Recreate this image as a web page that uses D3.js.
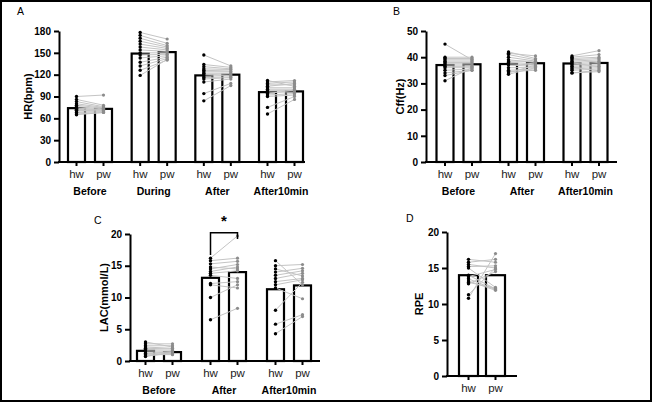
<!DOCTYPE html>
<html>
<head>
<meta charset="utf-8">
<script src="https://cdn.jsdelivr.net/npm/d3@7.9.0/dist/d3.min.js"></script>
<style>
  body { margin: 0; background: #fff; }
  svg { display: block; font-family: "Liberation Sans", Arial, sans-serif; }
  .tick text { font-size: 10px; font-weight: bold; fill: #000; }
</style>
</head>
<body>
<svg id="chart" width="652" height="402"></svg>
<script>
// Panel A: heart rate
const hrGroups = ["Before", "During", "After", "After10min"];
const hrBarHw = [74, 149, 119, 96];
const hrBarPw = [73, 151, 120, 97];
const hrHw = [
  [90, 86, 83, 80, 78, 76, 74, 73, 72, 71, 70, 68, 66, 65],
  [178, 174, 170, 166, 162, 158, 154, 150, 147, 143, 137, 132, 126, 119],
  [147, 134, 131, 128, 126, 124, 122, 120, 118, 116, 114, 110, 94, 84],
  [112, 110, 108, 106, 104, 102, 100, 98, 96, 94, 92, 90, 75, 66]
];
const hrPw = [
  [92, 78, 76, 75, 74, 73, 72, 72, 71, 70, 70, 69, 68, 68],
  [169, 163, 160, 158, 156, 154, 152, 150, 148, 146, 144, 142, 140, 141],
  [132, 130, 128, 127, 125, 124, 122, 121, 119, 117, 116, 114, 108, 105],
  [104, 112, 110, 106, 108, 102, 100, 98, 96, 99, 94, 92, 90, 86]
];
const hrTicks = [0, 30, 60, 90, 120, 150, 180];

// Panel B: critical flicker frequency
const cffGroups = ["Before", "After", "After10min"];
const cffBarHw = [37, 37.4, 37.6];
const cffBarPw = [37.3, 37.7, 37.8];
const cffHw = [
  [45, 40, 39.5, 39, 38.5, 38, 37.5, 37, 36.5, 36, 35, 34, 33, 31],
  [42, 41.5, 41, 40, 39, 38.5, 38, 37.5, 37, 36, 35, 34.5, 34, 33.5],
  [40.5, 40, 39.5, 39, 38.5, 38, 37.5, 37, 36.5, 36, 35.5, 35, 34, 34]
];
const cffPw = [
  [39, 40, 39.5, 39, 38.5, 38, 37.5, 37, 36.5, 36, 35.5, 35, 35, 36],
  [39.5, 40.5, 39, 38.5, 38, 38.5, 37.5, 37, 36.5, 36, 35.5, 35, 37, 36],
  [42.5, 41, 40, 39.5, 39, 38.5, 38, 37.5, 37, 36.5, 36, 35.5, 34.5, 35]
];
const cffTicks = [0, 10, 20, 30, 40, 50];

// Panel C: blood lactate
const lacGroups = ["Before", "After", "After10min"];
const lacBarHw = [1.6, 13.1, 11.3];
const lacBarPw = [1.4, 14.0, 11.9];
const lacHw = [
  [3.0, 2.7, 2.4, 2.2, 2.0, 1.8, 1.6, 1.4, 1.2, 1.0, 0.8, 0.7],
  [16.2, 15.8, 15.3, 14.8, 14.5, 14.1, 13.8, 13.5, 12.2, 12.0, 10.0, 6.5],
  [15.8, 15.0, 14.5, 14.0, 13.5, 13.0, 12.5, 12.0, 11.5, 8.0, 5.8, 4.3]
];
const lacPw = [
  [2.2, 2.7, 2.4, 2.0, 1.9, 1.7, 1.5, 1.3, 1.1, 1.0, 1.2, 1.4],
  [19.7, 16.2, 15.7, 14.5, 15.2, 14.8, 14.2, 13.0, 12.5, 11.5, 12.0, 8.3],
  [12.0, 15.2, 13.4, 14.6, 14.2, 13.8, 13.0, 12.8, 9.8, 12.4, 7.3, 7.0]
];
const lacTicks = [0, 5, 10, 15, 20];

// Panel D: rating of perceived exertion
const rpeGroups = [""];
const rpeBarHw = [14];
const rpeBarPw = [14];
const rpeHw = [[16.2, 15.8, 15.5, 15.2, 15.0, 14.0, 13.8, 13.5, 13.2, 13.0, 12.8, 11.3, 10.8]];
const rpePw = [[15.8, 16.2, 15.0, 15.3, 12.3, 12.1, 14.8, 12.0, 11.9, 12.2, 14.5, 15.0, 17.0]];
const rpeTicks = [0, 5, 10, 15, 20];

const svg = d3.select("#chart");

// outer frame
svg.append("rect")
  .attr("x", 1).attr("y", 1)
  .attr("width", 650).attr("height", 400)
  .attr("fill", "none").attr("stroke", "#000").attr("stroke-width", 2);

function drawPanel(p) {
  const g = svg.append("g");

  const y = d3.scaleLinear().domain(p.domain).range([p.y0, p.y1]);
  const x = d3.scalePoint().domain(p.groups).range(p.centers);
  const half = 13.5;
  const bw = p.barWidth;

  // bars
  p.groups.forEach((grp, i) => {
    const cx = x(grp);
    [[cx - half, p.barHw[i]], [cx + half, p.barPw[i]]].forEach(([bx, v]) => {
      g.append("rect")
        .attr("x", bx - bw / 2)
        .attr("y", y(v))
        .attr("width", bw)
        .attr("height", y(0) - y(v))
        .attr("fill", "#fff")
        .attr("stroke", "#000")
        .attr("stroke-width", 2.2);
    });
  });

  // paired lines and dots
  p.groups.forEach((grp, i) => {
    const xh = x(grp) - half, xp = x(grp) + half;
    p.hw[i].forEach((v, k) => {
      g.append("line")
        .attr("x1", xh).attr("y1", y(v))
        .attr("x2", xp).attr("y2", y(p.pw[i][k]))
        .attr("stroke", "#c4c4c4").attr("stroke-width", 1);
    });
    g.selectAll(null).data(p.pw[i]).join("circle")
      .attr("cx", xp).attr("cy", d => y(d)).attr("r", 1.6).attr("fill", "#8c8c8c");
    g.selectAll(null).data(p.hw[i]).join("circle")
      .attr("cx", xh).attr("cy", d => y(d)).attr("r", 1.7).attr("fill", "#000");
  });

  // y axis
  const ax = g.append("g")
    .attr("transform", `translate(${p.axisX},0)`)
    .call(d3.axisLeft(y).tickValues(p.ticks).tickSize(5).tickSizeOuter(0).tickPadding(3));
  ax.select(".domain").attr("stroke-width", 2);
  ax.selectAll(".tick line").attr("stroke-width", 2);

  // x axis
  g.append("line")
    .attr("x1", p.axisX - 1).attr("x2", p.axisEnd)
    .attr("y1", y(0)).attr("y2", y(0))
    .attr("stroke", "#000").attr("stroke-width", 2);

  p.groups.forEach(grp => {
    [["hw", x(grp) - half], ["pw", x(grp) + half]].forEach(([lab, tx]) => {
      g.append("line")
        .attr("x1", tx).attr("x2", tx)
        .attr("y1", y(0)).attr("y2", y(0) + 4)
        .attr("stroke", "#000").attr("stroke-width", 2);
      g.append("text")
        .attr("x", tx).attr("y", y(0) + 16)
        .attr("text-anchor", "middle")
        .attr("font-size", 11.5)
        .attr("fill", "#222")
        .text(lab);
    });
    g.append("text")
      .attr("x", x(grp)).attr("y", y(0) + 33)
      .attr("text-anchor", "middle")
      .attr("font-size", 10.5)
      .attr("font-weight", "bold")
      .text(grp);
  });

  // y title
  g.append("text")
    .attr("transform", `translate(${p.titleX},${(p.y0 + p.y1) / 2}) rotate(-90)`)
    .attr("text-anchor", "middle")
    .attr("font-size", 11)
    .attr("font-weight", "bold")
    .text(p.title);

  // panel letter
  g.append("text")
    .attr("x", p.letterX).attr("y", p.letterY)
    .attr("font-size", 10.5)
    .text(p.letter);

  return { g, x, y, half };
}

drawPanel({
  letter: "A", letterX: 17, letterY: 15,
  title: "HR(bpm)", titleX: 32,
  groups: hrGroups, barHw: hrBarHw, barPw: hrBarPw, hw: hrHw, pw: hrPw,
  domain: [0, 180], ticks: hrTicks, y0: 162, y1: 31,
  axisX: 59, axisEnd: 305, centers: [90, 281], barWidth: 17
});

drawPanel({
  letter: "B", letterX: 393, letterY: 15,
  title: "Cff(Hz)", titleX: 404,
  groups: cffGroups, barHw: cffBarHw, barPw: cffBarPw, hw: cffHw, pw: cffPw,
  domain: [0, 50], ticks: cffTicks, y0: 162, y1: 31,
  axisX: 426, axisEnd: 617, centers: [458.5, 585.5], barWidth: 17
});

const c = drawPanel({
  letter: "C", letterX: 94, letterY: 224,
  title: "LAC(mmol/L)", titleX: 108,
  groups: lacGroups, barHw: lacBarHw, barPw: lacBarPw, hw: lacHw, pw: lacPw,
  domain: [0, 20], ticks: lacTicks, y0: 361, y1: 234,
  axisX: 130, axisEnd: 320, centers: [159, 289], barWidth: 17
});

drawPanel({
  letter: "D", letterX: 406, letterY: 222,
  title: "RPE", titleX: 423,
  groups: rpeGroups, barHw: rpeBarHw, barPw: rpeBarPw, hw: rpeHw, pw: rpePw,
  domain: [0, 20], ticks: rpeTicks, y0: 376, y1: 232,
  axisX: 447, axisEnd: 517, centers: [482, 482], barWidth: 19
});

// significance bracket in panel C (After: hw vs pw)
const bx1 = c.x("After") - c.half, bx2 = c.x("After") + c.half;
c.g.append("path")
  .attr("d", `M${bx1},${c.y(16.7)}V${c.y(20.2)}H${bx2}V${c.y(19.2)}`)
  .attr("fill", "none").attr("stroke", "#000").attr("stroke-width", 1.5);
c.g.append("text")
  .attr("x", c.x("After")).attr("y", c.y(21.2))
  .attr("text-anchor", "middle")
  .attr("font-size", 15).attr("font-weight", "bold")
  .text("*");
</script>
</body>
</html>
